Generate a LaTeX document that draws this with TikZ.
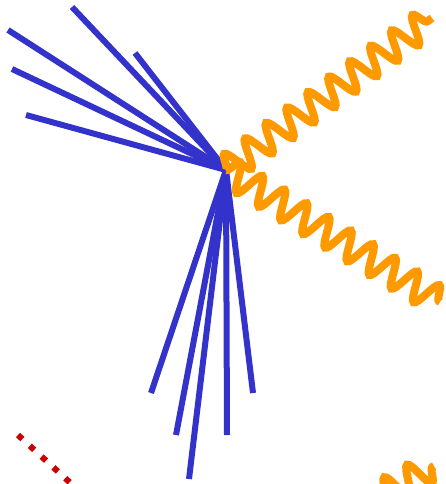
\documentclass[tikz,border=0pt]{standalone}
\usetikzlibrary{decorations.pathmorphing}
\usepackage{xcolor}
\definecolor{jetblue}{RGB}{51,51,204}
\definecolor{photonorange}{RGB}{255,153,0}
\definecolor{scalarred}{RGB}{204,0,0}

\begin{document}
\begin{tikzpicture}[x=1pt, y=-1pt,
        % Estilo das linhas de jato
            jet/.style={draw=jetblue, line width=6pt},
        % Estilo dos fotoes (linha ondulada)
            photon/.style={draw=photonorange, line width=8pt, decorate, decoration={snake, amplitude=14pt, segment length=26pt}},
        % Linha pontilhada vermelha
            scalar/.style={draw=scalarred, line width=6pt, dash pattern=on 6pt off 10pt}
        ]
            \clip (0,0) rectangle (446,484);

            % --- VERTICE ---
            \coordinate (vtx) at (226,170);

            % --- JATOS ---
            \foreach \x/\y [count=\i] in {72/7, 8/30, 12/69, 26/115, 135/53, 151/393, 176/435, 189/479, 227/435, 253/393}
                {\coordinate (j\i) at (\x,\y);
                 \draw[jet] (vtx) -- (j\i);}

            % --- FOTOES ---
            \coordinate (fA) at (432,18);
            \coordinate (fB) at (440,302);
            \coordinate (fC0) at (270,556);
            \coordinate (fC) at (434,466);
            \draw[photon] (vtx) -- (fA);
            \draw[photon] (vtx) -- (fB);
            \draw[photon] (fC0) -- (fC);

            % --- LINHA ESCALAR ---
            \coordinate (s0) at (18,435);
            \coordinate (s1) at (100,510);
            \draw[scalar] (s0) -- (s1);
        \end{tikzpicture}
\end{document}
